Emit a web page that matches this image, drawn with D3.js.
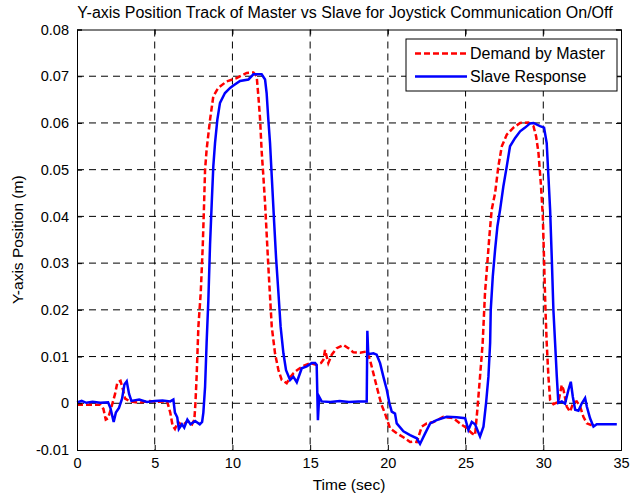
<!DOCTYPE html>
<html>
<head>
<meta charset="utf-8">
<script src="https://cdn.jsdelivr.net/npm/d3@7"></script>
<style>
  body { margin: 0; background: #fff; }
  svg { font-family: "Liberation Sans", Arial, sans-serif; }
</style>
</head>
<body>
<svg id="chart"></svg>
<script>
// data
const xTicks = [0, 5, 10, 15, 20, 25, 30, 35];
const yTicks = [-0.01, 0, 0.01, 0.02, 0.03, 0.04, 0.05, 0.06, 0.07, 0.08];
const seriesNames = ["Demand by Master", "Slave Response"];

const masterT = [0, 1.5, 1.7, 1.85, 2.0, 2.2, 2.45, 2.6, 2.8, 2.95, 3.1, 3.4, 4.0, 4.6, 5.2, 5.8, 6.0, 6.15, 6.3, 6.5, 6.8, 7.1, 7.4, 7.55, 7.62, 7.7, 7.81, 7.96, 8.09, 8.17, 8.24, 8.34, 8.56, 8.77, 9.09, 9.63, 10.27, 10.92, 11.35, 11.56, 11.67, 11.78, 11.88, 11.99, 12.1, 12.2, 12.31, 12.42, 12.53, 12.74, 12.96, 13.17, 13.49, 13.71, 13.92, 14.2, 14.56, 15.0, 15.42, 15.7, 15.85, 15.96, 16.17, 16.39, 16.71, 17.14, 17.46, 17.78, 18.21, 18.64, 18.85, 19.07, 19.28, 19.45, 19.6, 19.82, 20.14, 20.57, 21.1, 21.43, 21.64, 21.86, 22.18, 22.5, 22.93, 23.57, 24.22, 24.75, 25.07, 25.4, 25.61, 25.76, 25.93, 26.1, 26.25, 26.4, 26.53, 26.68, 26.9, 27.11, 27.33, 27.65, 28.08, 28.51, 29.04, 29.37, 29.54, 29.69, 29.84, 29.97, 30.05, 30.14, 30.22, 30.33, 30.44, 30.65, 30.97, 31.19, 31.3, 31.51, 31.72, 31.94, 32.15, 32.37, 32.58, 32.8, 33.12];
const masterY = [-0.0003, -0.0003, -0.0012, -0.0035, -0.0032, -0.001, 0.002, 0.0045, 0.0048, 0.003, 0.001, 0.0004, 0.0001, 0.0005, 0.0003, 0.0004, -0.002, -0.0048, -0.0055, -0.004, -0.0048, -0.0038, -0.0045, -0.0035, 0.0, 0.006, 0.0164, 0.0236, 0.0336, 0.042, 0.05, 0.0543, 0.0607, 0.0657, 0.0675, 0.0689, 0.0696, 0.0707, 0.0708, 0.07, 0.0657, 0.0607, 0.054, 0.0486, 0.0428, 0.0364, 0.0293, 0.0228, 0.0164, 0.0107, 0.0071, 0.005, 0.0043, 0.0055, 0.0064, 0.0072, 0.008, 0.0086, 0.0082, 0.0086, 0.0093, 0.0114, 0.0086, 0.0104, 0.0118, 0.0125, 0.0118, 0.0109, 0.0108, 0.0111, 0.0093, 0.0064, 0.0036, 0.0014, -0.0004, -0.0022, -0.0054, -0.0064, -0.0075, -0.0083, -0.0082, -0.0083, -0.005, -0.0043, -0.004, -0.0029, -0.0032, -0.0046, -0.0053, -0.0064, -0.0068, -0.0013, 0.0057, 0.0129, 0.0236, 0.03, 0.0357, 0.0414, 0.045, 0.0507, 0.055, 0.0575, 0.059, 0.06, 0.0601, 0.0593, 0.0571, 0.0536, 0.0471, 0.04, 0.0307, 0.02, 0.0129, 0.0057, 0.0007, -0.0002, 0.0003, 0.0039, 0.0029, -0.0007, -0.0018, 0.0002, 0.0004, -0.0007, -0.0029, -0.0043, -0.0047];

const slaveT = [0, 0.3, 0.6, 1.0, 1.5, 2.0, 2.15, 2.36, 2.5, 2.7, 2.9, 3.05, 3.2, 3.35, 3.5, 4.0, 4.5, 5.0, 5.5, 6.0, 6.2, 6.3, 6.45, 6.55, 6.75, 6.9, 7.1, 7.3, 7.6, 7.9, 8.05, 8.13, 8.24, 8.34, 8.45, 8.56, 8.67, 8.77, 8.88, 9.03, 9.2, 9.52, 9.85, 10.06, 10.49, 11.03, 11.35, 11.88, 12.1, 12.2, 12.31, 12.42, 12.53, 12.68, 12.81, 12.96, 13.1, 13.28, 13.45, 13.71, 13.92, 14.14, 14.46, 14.78, 15.1, 15.32, 15.42, 15.5, 15.58, 15.74, 16.3, 16.9, 17.5, 18.1, 18.64, 18.68, 18.74, 19.07, 19.28, 19.5, 19.71, 19.93, 20.1, 20.25, 20.46, 20.57, 21.0, 21.43, 21.86, 22.07, 22.39, 22.72, 23.14, 23.79, 24.43, 24.97, 25.18, 25.4, 25.61, 25.93, 26.15, 26.32, 26.47, 26.58, 26.62, 26.75, 26.9, 27.05, 27.22, 27.43, 27.65, 27.86, 28.19, 28.51, 28.83, 29.15, 29.37, 29.79, 30.05, 30.22, 30.33, 30.44, 30.55, 30.65, 30.76, 30.87, 30.97, 31.19, 31.4, 31.62, 31.77, 31.9, 32.05, 32.26, 32.48, 32.69, 32.8, 33.01, 33.23, 33.44, 34.73];
const slaveY = [0.0002, 0.0005, 0.0001, 0.0003, 0.0001, 0.0002, -0.001, -0.004, -0.002, -0.001, 0.001, 0.004, 0.0047, 0.002, 0.0005, 0.0008, 0.0003, 0.0005, 0.0006, 0.0004, 0.0008, -0.002, -0.003, -0.0055, -0.0045, -0.0052, -0.0035, -0.0045, -0.0038, -0.0045, -0.004, -0.002, 0.0035, 0.013, 0.022, 0.034, 0.043, 0.0507, 0.0557, 0.0607, 0.0643, 0.0664, 0.0675, 0.068, 0.069, 0.0693, 0.0704, 0.0704, 0.0693, 0.0664, 0.0607, 0.0557, 0.0486, 0.039, 0.031, 0.0236, 0.0164, 0.0107, 0.0071, 0.005, 0.0057, 0.0045, 0.0075, 0.0079, 0.0086, 0.0086, 0.0082, -0.0036, 0.0014, 0.0004, 0.0003, 0.0005, 0.0003, 0.0004, 0.0004, 0.0155, 0.0105, 0.0107, 0.0104, 0.0086, 0.0057, 0.0029, 0.0, -0.0018, -0.0022, -0.0043, -0.006, -0.0068, -0.0075, -0.0087, -0.0065, -0.0043, -0.0036, -0.0029, -0.003, -0.0032, -0.0057, -0.004, -0.0045, -0.0071, -0.005, 0.0001, 0.0057, 0.0129, 0.02, 0.0271, 0.0329, 0.0379, 0.0414, 0.0464, 0.0507, 0.055, 0.0568, 0.0582, 0.059, 0.0599, 0.06, 0.0593, 0.059, 0.0557, 0.0486, 0.0414, 0.0307, 0.02, 0.0129, 0.0057, 0.0001, 0.0004, -0.0001, 0.0029, 0.0046, 0.0014, -0.0014, -0.0016, 0.0, 0.0011, -0.0007, -0.0032, -0.005, -0.0045, -0.0045];

// size
const width = 631;
const height = 494;
const margin = { top: 29.5, right: 10, bottom: 44, left: 77 };

const svg = d3.select("#chart")
  .attr("width", width)
  .attr("height", height);

const x = d3.scaleLinear().domain([0, 35]).range([margin.left, width - margin.right]);
const y = d3.scaleLinear().domain([-0.01, 0.08]).range([height - margin.bottom, margin.top]);

const fmt = d => String(Math.round(d * 100) / 100);

// grid
svg.append("g")
  .selectAll("line")
  .data(xTicks.slice(1, -1))
  .enter()
  .append("line")
  .attr("x1", d => x(d)).attr("x2", d => x(d))
  .attr("y1", y(0.08)).attr("y2", y(-0.01))
  .attr("stroke", "#000")
  .attr("stroke-dasharray", "7,5");

svg.append("g")
  .selectAll("line")
  .data(yTicks.slice(1, -1))
  .enter()
  .append("line")
  .attr("x1", x(0)).attr("x2", x(35))
  .attr("y1", d => y(d)).attr("y2", d => y(d))
  .attr("stroke", "#000")
  .attr("stroke-dasharray", "7,5");

// lines
const line = d3.line()
  .x(d => x(d[0]))
  .y(d => y(d[1]));

svg.append("path")
  .datum(d3.zip(masterT, masterY))
  .attr("fill", "none")
  .attr("stroke", "#ff0000")
  .attr("stroke-width", 2.5)
  .attr("stroke-dasharray", "6,3")
  .attr("d", line);

svg.append("path")
  .datum(d3.zip(slaveT, slaveY))
  .attr("fill", "none")
  .attr("stroke", "#0000ff")
  .attr("stroke-width", 2.5)
  .attr("d", line);

// axes, ticks inward on all four sides
const tick = 5;
svg.append("g")
  .attr("transform", `translate(0,${y(-0.01)})`)
  .call(d3.axisBottom(x).tickValues(xTicks).tickSize(-tick).tickPadding(8).tickFormat(fmt));
svg.append("g")
  .attr("transform", `translate(0,${y(0.08)})`)
  .call(d3.axisTop(x).tickValues(xTicks).tickSize(-tick).tickFormat(""));
svg.append("g")
  .attr("transform", `translate(${x(0)},0)`)
  .call(d3.axisLeft(y).tickValues(yTicks).tickSize(-tick).tickPadding(8).tickFormat(fmt));
svg.append("g")
  .attr("transform", `translate(${x(35)},0)`)
  .call(d3.axisRight(y).tickValues(yTicks).tickSize(-tick).tickFormat(""));

svg.selectAll(".domain").attr("stroke", "#000");
svg.selectAll(".tick line").attr("stroke", "#000");
svg.selectAll(".tick text")
  .attr("fill", "#000")
  .style("font-size", "14.5px")
  .style("font-family", "Liberation Sans, Arial, sans-serif");

// titles
svg.append("text")
  .attr("x", 345)
  .attr("y", 18)
  .attr("text-anchor", "middle")
  .style("font-size", "16px")
  .text("Y-axis Position Track of Master vs Slave for Joystick Communication On/Off");

svg.append("text")
  .attr("x", (x(0) + x(35)) / 2)
  .attr("y", 490)
  .attr("text-anchor", "middle")
  .style("font-size", "15.5px")
  .text("Time (sec)");

svg.append("text")
  .attr("transform", `translate(23,${(y(-0.01) + y(0.08)) / 2}) rotate(-90)`)
  .attr("text-anchor", "middle")
  .style("font-size", "15.5px")
  .text("Y-axis Position (m)");

// legend
const lg = svg.append("g").attr("transform", "translate(406,39)");
lg.append("rect")
  .attr("width", 211).attr("height", 52)
  .attr("fill", "#fff").attr("stroke", "#000");

const legendStyles = [
  { color: "#ff0000", dash: "6,3" },
  { color: "#0000ff", dash: null }
];
seriesNames.forEach((name, i) => {
  const cy = 14.5 + i * 23;
  lg.append("line")
    .attr("x1", 9).attr("x2", 61)
    .attr("y1", cy).attr("y2", cy)
    .attr("stroke", legendStyles[i].color)
    .attr("stroke-width", 2.5)
    .attr("stroke-dasharray", legendStyles[i].dash);
  lg.append("text")
    .attr("x", 64)
    .attr("y", cy + 5.5)
    .style("font-size", "16px")
    .text(name);
});
</script>
</body>
</html>
